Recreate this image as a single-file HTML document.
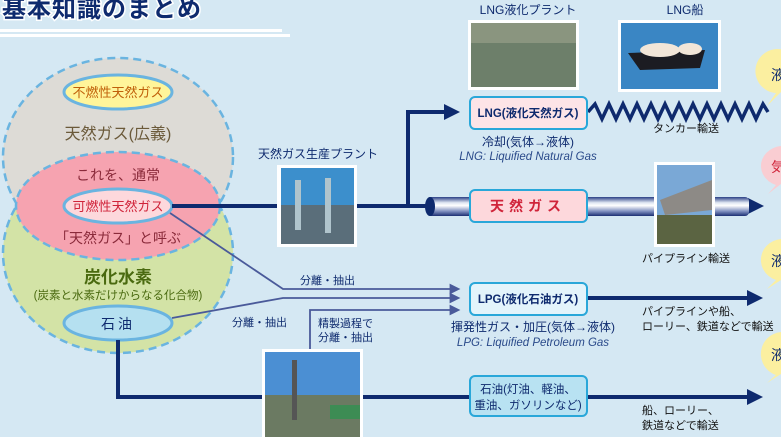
<!DOCTYPE html>
<html><head><meta charset="utf-8"><style>
html,body{margin:0;padding:0;background:#d5e8f3;}
svg{display:block;}
text{font-family:"Liberation Sans","Noto Sans CJK JP",sans-serif;}
</style></head><body>
<svg width="781" height="437" viewBox="0 0 781 437" xmlns="http://www.w3.org/2000/svg">
<defs>
<linearGradient id="pipe" x1="0" y1="0" x2="0" y2="1">
<stop offset="0" stop-color="#2a3f86"/><stop offset="0.3" stop-color="#dfe6f2"/><stop offset="0.45" stop-color="#ffffff"/><stop offset="0.75" stop-color="#7f8fbf"/><stop offset="1" stop-color="#1c2f73"/>
</linearGradient>
<marker id="ah" markerWidth="4" markerHeight="4" refX="2" refY="2" orient="auto" markerUnits="strokeWidth"><path d="M0,0 L4,2 L0,4 Z" fill="#0e2a6e"/></marker>
<marker id="ah2" markerWidth="6" markerHeight="6" refX="3" refY="3" orient="auto" markerUnits="strokeWidth"><path d="M0,0 L6,3 L0,6 Z" fill="#4a5a9a"/></marker>
</defs>
<rect width="781" height="437" fill="#d5e8f3"/>
<!-- header -->
<text x="2" y="17" font-size="24" font-weight="bold" fill="#0e2a6e" stroke="#ffffff" stroke-width="3" paint-order="stroke" letter-spacing="1">基本知識のまとめ</text>
<rect x="0" y="29" width="282" height="3" fill="#fff"/>
<rect x="0" y="34" width="290" height="3" fill="#fff"/>

<!-- circles -->
<ellipse cx="118" cy="157" rx="115" ry="99" fill="#dddbd6" stroke="#6ab4e0" stroke-width="2.5" stroke-dasharray="8,5"/>
<ellipse cx="118" cy="253" rx="115" ry="100" fill="#d3e3a6" stroke="#6ab4e0" stroke-width="2.5" stroke-dasharray="8,5"/>
<ellipse cx="118" cy="206" rx="102" ry="54" fill="#f6a3b0" stroke="#6ab4e0" stroke-width="2.5" stroke-dasharray="8,5"/>

<ellipse cx="118" cy="92" rx="54" ry="17" fill="#fff59a" stroke="#6ab4e0" stroke-width="3"/>
<text x="118" y="97" font-size="13" text-anchor="middle" fill="#c0600a">不燃性天然ガス</text>
<text x="118" y="139" font-size="16" text-anchor="middle" fill="#6b5a3a">天然ガス(広義)</text>
<text x="118" y="180" font-size="14" text-anchor="middle" fill="#8a2a3a">これを、通常</text>
<ellipse cx="118" cy="206" rx="54" ry="17" fill="#fdd8dc" stroke="#6ab4e0" stroke-width="3"/>
<text x="118" y="211" font-size="13" text-anchor="middle" fill="#d0243a">可燃性天然ガス</text>
<text x="118" y="243" font-size="14" text-anchor="middle" fill="#8a2a3a">「天然ガス」と呼ぶ</text>
<text x="118" y="283" font-size="17" font-weight="bold" text-anchor="middle" fill="#4a6a10">炭化水素</text>
<text x="118" y="299" font-size="11.5" text-anchor="middle" fill="#4a6a10">(炭素と水素だけからなる化合物)</text>
<ellipse cx="118" cy="323" rx="54" ry="17" fill="#b5e0f0" stroke="#6ab4e0" stroke-width="3"/>
<text x="118" y="329" font-size="14" text-anchor="middle" fill="#0e2a6e" letter-spacing="3">石油</text>

<!-- thin lines -->
<g stroke="#4a5a9a" stroke-width="1.8" fill="none">
<polyline points="170,213 283,289 455,289" marker-end="url(#ah2)"/>
<polyline points="172,318 283,298 455,298" marker-end="url(#ah2)"/>
<polyline points="310,350 310,310 455,310" marker-end="url(#ah2)"/>
</g>
<text x="300" y="284" font-size="11" fill="#0e2a6e">分離・抽出</text>
<text x="232" y="326" font-size="11" fill="#0e2a6e">分離・抽出</text>
<text x="318" y="327" font-size="11" fill="#0e2a6e">精製過程で</text>
<text x="318" y="341" font-size="11" fill="#0e2a6e">分離・抽出</text>

<!-- thick lines -->
<g stroke="#0e2a6e" stroke-width="4" fill="none">
<line x1="172" y1="206" x2="430" y2="206"/>
<polyline points="408,206 408,112 452,112" marker-end="url(#ah)"/>
<polyline points="118,340 118,397 755,397" marker-end="url(#ah)"/>
<line x1="587" y1="298" x2="755" y2="298" marker-end="url(#ah)"/>
<line x1="748" y1="206" x2="756" y2="206" marker-end="url(#ah)"/>
<polyline points="588,112 595,104 602,119 609,104 616,119 623,104 630,119 637,104 644,119 651,104 658,119 665,104 672,119 679,104 686,119 693,104 700,119 707,104 714,119 721,104 728,119 735,104 742,119 749,104 756,119 763,104 768,112" stroke-width="3.5"/>
</g>

<!-- pipe -->
<rect x="427" y="197" width="322" height="19" rx="4" fill="url(#pipe)"/>
<ellipse cx="430" cy="206.5" rx="5" ry="9.5" fill="#0e2a6e"/>

<!-- boxes -->
<rect x="470" y="97" width="117" height="32" rx="5" fill="#fde4e7" stroke="#29a7d9" stroke-width="2"/>
<text x="528" y="117" font-size="11.5" font-weight="bold" text-anchor="middle" fill="#0e2a6e">LNG(液化天然ガス)</text>
<rect x="470" y="190" width="117" height="32" rx="5" fill="#fdd8dc" stroke="#29a7d9" stroke-width="2"/>
<text x="528" y="211" font-size="14" font-weight="bold" text-anchor="middle" fill="#d0243a" letter-spacing="5">天然ガス</text>
<rect x="470" y="283" width="117" height="32" rx="5" fill="#e3f4fb" stroke="#29a7d9" stroke-width="2"/>
<text x="528" y="303" font-size="11.5" font-weight="bold" text-anchor="middle" fill="#0e2a6e">LPG(液化石油ガス)</text>
<rect x="470" y="376" width="117" height="40" rx="5" fill="#b8e2f2" stroke="#29a7d9" stroke-width="2"/>
<text x="528" y="393" font-size="11.5" text-anchor="middle" fill="#0e2a6e">石油(灯油、軽油、</text>
<text x="528" y="409" font-size="11.5" text-anchor="middle" fill="#0e2a6e">重油、ガソリンなど)</text>

<!-- labels -->
<text x="528" y="14" font-size="12" text-anchor="middle" fill="#0e2a6e">LNG液化プラント</text>
<text x="685" y="14" font-size="12" text-anchor="middle" fill="#0e2a6e">LNG船</text>
<text x="318" y="158" font-size="12" text-anchor="middle" fill="#0e2a6e">天然ガス生産プラント</text>
<text x="528" y="146" font-size="12" text-anchor="middle" fill="#0e2a6e">冷却(気体→液体)</text>
<text x="528" y="160" font-size="11.5" font-style="italic" text-anchor="middle" fill="#2a4a8a">LNG: Liquified Natural Gas</text>
<text x="686" y="132" font-size="11" text-anchor="middle" fill="#111">タンカー輸送</text>
<text x="686" y="262" font-size="11" text-anchor="middle" fill="#111">パイプライン輸送</text>
<text x="533" y="331" font-size="12" text-anchor="middle" fill="#0e2a6e">揮発性ガス・加圧(気体→液体)</text>
<text x="533" y="346" font-size="11.5" font-style="italic" text-anchor="middle" fill="#2a4a8a">LPG: Liquified Petroleum Gas</text>
<text x="642" y="315" font-size="11" fill="#111">パイプラインや船、</text>
<text x="642" y="330" font-size="11" fill="#111">ローリー、鉄道などで輸送</text>
<text x="642" y="414" font-size="11" fill="#111">船、ローリー、</text>
<text x="642" y="429" font-size="11" fill="#111">鉄道などで輸送</text>

<!-- photos -->
<rect x="468" y="20" width="111" height="70" fill="#fff"/>
<rect x="471" y="23" width="105" height="64" fill="#6d7f6a"/>
<rect x="471" y="23" width="105" height="20" fill="#8a957f"/>
<rect x="618" y="20" width="103" height="72" fill="#fff"/>
<rect x="621" y="23" width="97" height="66" fill="#3a86c4"/>
<path d="M628,53 L705,50 L700,68 L640,70 Z" fill="#1c1c22"/>
<ellipse cx="660" cy="50" rx="20" ry="7" fill="#f2e6d8"/>
<ellipse cx="690" cy="49" rx="12" ry="6" fill="#f2e6d8"/>
<rect x="277" y="165" width="80" height="82" fill="#fff"/>
<rect x="281" y="168" width="73" height="76" fill="#3c8fcc"/>
<rect x="281" y="205" width="73" height="39" fill="#5a6e7a"/>
<rect x="295" y="180" width="6" height="50" fill="#b0c4cc"/>
<rect x="325" y="178" width="6" height="55" fill="#b0c4cc"/>
<rect x="654" y="162" width="61" height="85" fill="#fff"/>
<rect x="657" y="165" width="55" height="79" fill="#7aa8d6"/>
<rect x="657" y="215" width="55" height="29" fill="#5b6442"/>
<path d="M660,200 L712,180 L712,210 L665,215 Z" fill="#8d8a86"/>
<rect x="262" y="349" width="101" height="88" fill="#fff"/>
<rect x="265" y="352" width="95" height="85" fill="#4b8fd3"/>
<rect x="265" y="395" width="95" height="42" fill="#6b7a62"/>
<rect x="292" y="360" width="5" height="60" fill="#555"/>
<rect x="330" y="405" width="30" height="14" fill="#3d8c54"/>

<!-- bubbles -->
<g font-size="14">
<path d="M790,53 a22,22 0 1 0 -14,40 L767,106 L781,92 Z" fill="#fbefa0"/>
<text x="771" y="80" fill="#0e2a6e">液</text>
<path d="M790,147 a22,20 0 1 0 -14,38 L768,194 L781,184 Z" fill="#f9cdd2"/>
<text x="771" y="172" fill="#d0243a">気</text>
<path d="M790,240 a22,21 0 1 0 -14,40 L767,289 L781,280 Z" fill="#fbefa0"/>
<text x="771" y="266" fill="#0e2a6e">液</text>
<path d="M790,333 a22,22 0 1 0 -14,42 L767,383 L781,374 Z" fill="#fbefa0"/>
<text x="771" y="360" fill="#0e2a6e">液</text>
</g>
</svg>
</body></html>
